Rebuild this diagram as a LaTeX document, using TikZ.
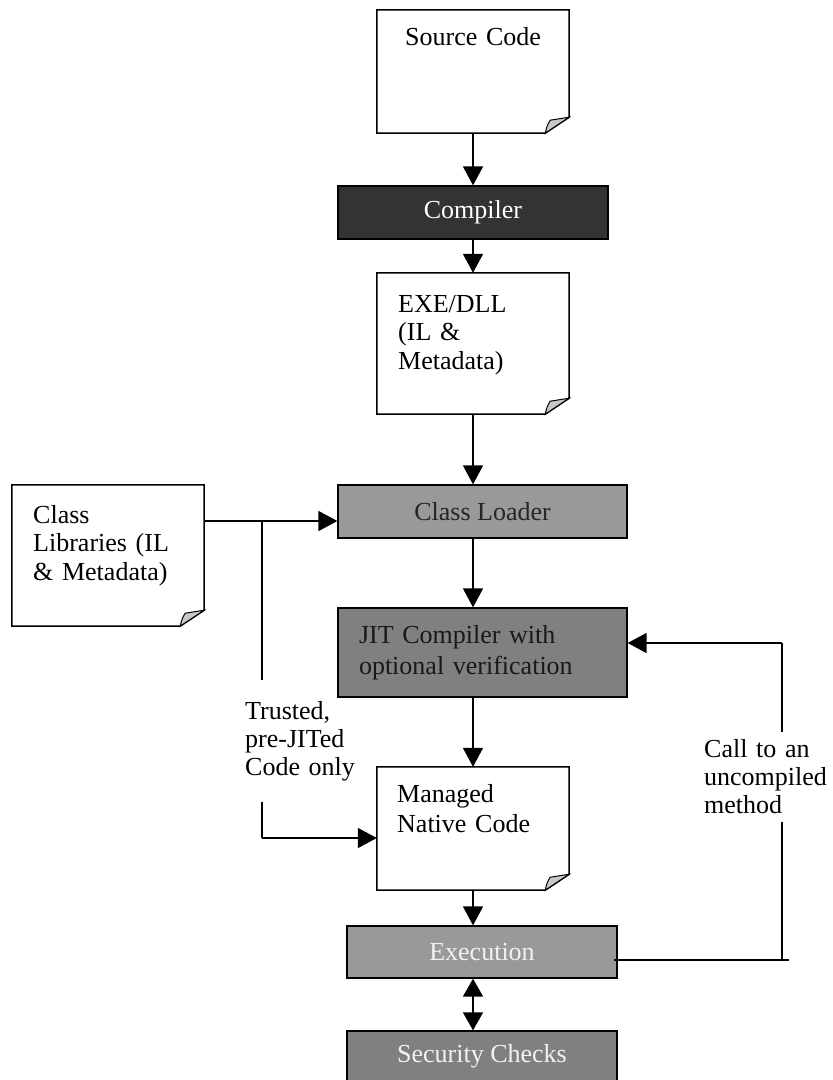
\documentclass[tikz,border=0pt]{standalone}
\usepackage{fontspec}
\setmainfont{Liberation Serif}
\usetikzlibrary{arrows.meta,calc}
\definecolor{darkbox}{HTML}{333333}
\definecolor{midbox}{HTML}{999999}
\definecolor{deepbox}{HTML}{808080}
\definecolor{curlgray}{HTML}{C8C8C8}
\newcommand{\docpage}[1]{%
  \draw[docline] (#1.north west) -- (#1.north east) -- ([yshift=16pt]#1.south east)
     -- ([xshift=-24pt]#1.south east) -- (#1.south west) -- cycle;
  \filldraw[curl] ([xshift=-24pt]#1.south east)
     .. controls ([xshift=-22pt,yshift=8pt]#1.south east) .. ([xshift=-19pt,yshift=13pt]#1.south east)
     .. controls ([xshift=-10pt,yshift=14pt]#1.south east) .. ([yshift=16pt]#1.south east) -- cycle;}
\tikzset{
  txt/.style={font=\fontsize{26pt}{#1}\selectfont},
  txt/.default=30pt,
  docnode/.style={rectangle, draw=none, fill=white, inner sep=0pt},
  docline/.style={line width=1.5pt, line join=miter},
  curl/.style={fill=curlgray, draw=black, line width=1pt},
  lbl/.style={anchor=base west, inner sep=0pt, text width=150pt, align=left},
  procbox/.style={rectangle, draw=black, line width=1.3pt, inner sep=0pt, txt},
  conn/.style={line width=1.6pt},
  arr/.style={conn, -{Triangle[length=19pt,width=20pt]}},
  darr/.style={conn, {Triangle[length=18pt,width=20pt]}-{Triangle[length=18pt,width=20pt]}}
}
\begin{document}
\begin{tikzpicture}[x=1pt,y=-1pt]
\useasboundingbox (0,0) rectangle (833,1080);
\fill[white] (0,0) rectangle (833,1080);

% documents
\node[docnode, minimum width=192pt, minimum height=123pt] (src) at (473,71.5) {};
\docpage{src}
\node[lbl, txt] (srcT) at (405,45) {Source Code};

\node[docnode, minimum width=192pt, minimum height=141pt] (exe) at (473,343.5) {};
\docpage{exe}
\node[lbl, txt=28.5pt] (exeT) at (398,312) {EXE/DLL\\(IL \&\\Metadata)};

\node[docnode, minimum width=192pt, minimum height=141pt] (lib) at (108,555.5) {};
\docpage{lib}
\node[lbl, txt=28.5pt] (libT) at (33,523) {Class\\Libraries (IL\\\& Metadata)};

\node[docnode, minimum width=192pt, minimum height=123pt] (nat) at (473,828.5) {};
\docpage{nat}
\node[lbl, txt=30.5pt] (natT) at (397,802) {Managed\\Native Code};

% process boxes
\node[procbox, fill=darkbox, text=white, minimum width=270pt, minimum height=53pt] (comp) at (473,212.5) {Compiler};
\node[procbox, fill=midbox, text=black!85, minimum width=289pt, minimum height=53pt] (loader) at (482.5,511.5) {Class Loader};
\node[procbox, txt=31pt, fill=deepbox, text=black!90, minimum width=289pt, minimum height=89pt, text width=247pt, align=left, inner xsep=21pt] (jit) at (482.5,652.5) {JIT Compiler with\\optional verification};
\node[procbox, fill=midbox, text=white!95!black, minimum width=270pt, minimum height=52pt] (exec) at (482,952) {Execution};
\node[procbox, fill=deepbox, text=white!95!black, minimum width=270pt, minimum height=50pt] (sec) at (482,1056) {Security Checks};

% labels
\node[lbl, txt=28pt] (trust) at (245,719) {Trusted,\\pre-JITed\\Code only};
\node[lbl, txt=28pt, text width=130pt] (call) at (704,757) {Call to an\\uncompiled\\method};

% main flow
\draw[arr] (src.south) -- (comp.north);
\draw[arr] (comp.south) -- (exe.north);
\draw[arr] (exe.south) -- (exe.south |- loader.north);
\draw[arr] (exe.south |- loader.south) -- (exe.south |- jit.north);
\draw[arr] (nat.north |- jit.south) -- (nat.north);
\draw[arr] (nat.south) -- (nat.south |- exec.north);
\draw[darr] (nat.south |- exec.south) -- (nat.south |- sec.north);

% class libraries branch
\coordinate (j0) at (204,521);
\coordinate (j1) at (262,521);
\coordinate (j2) at (262,680);
\coordinate (j3) at (262,802);
\coordinate (j4) at (262,838);
\draw[arr] (j0) -- (loader.west |- j0);
\draw[conn] (j1) -- (j2);
\draw[conn] (j3) -- (j4);
\draw[arr] (j4) -- (nat.west |- j4);

% call to uncompiled method
\coordinate (c0) at (782,643);
\coordinate (c1) at (782,732);
\coordinate (c2) at (782,822);
\coordinate (c3) at (782,960);
\coordinate (c4) at (789,960);
\draw[conn] (c1) -- (c0);
\draw[arr] (c0) -- (jit.east |- c0);
\draw[conn] (c2) -- (c3);
\draw[conn] ([xshift=-4pt]exec.east |- c3) -- (c4);
\end{tikzpicture}
\end{document}
